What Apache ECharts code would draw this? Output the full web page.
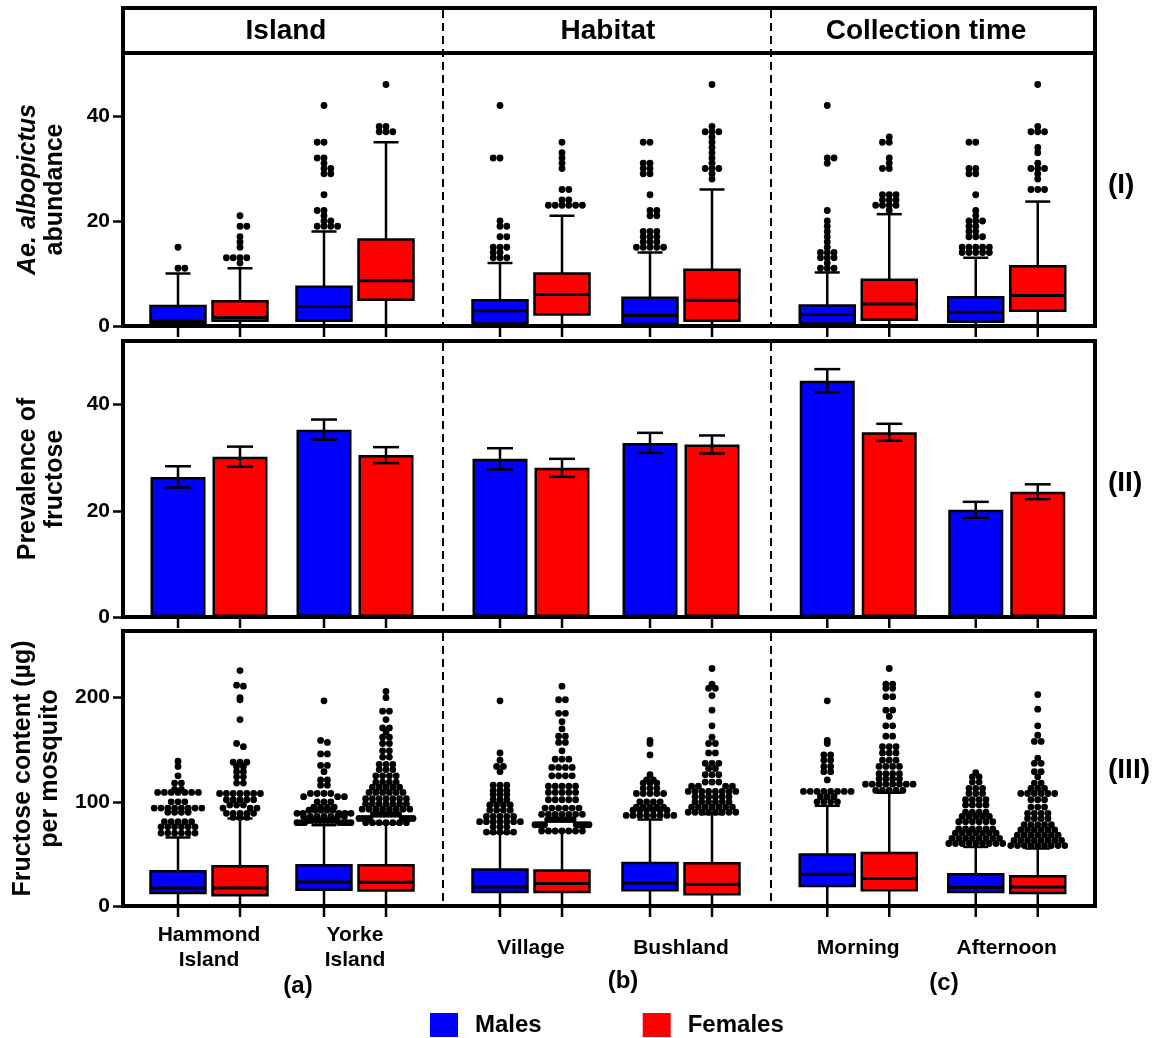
<!DOCTYPE html>
<html><head><meta charset="utf-8">
<script src="https://cdn.jsdelivr.net/npm/echarts@6/dist/echarts.min.js"></script>
<style>html,body{margin:0;padding:0;background:#fff}#chart{width:1170px;height:1038px}</style>
</head><body><div id="chart"></div>
<script>
// ---------------- DATA ----------------
const sectionTitles = ['Island', 'Habitat', 'Collection time'];
const sectionTags = ['(a)', '(b)', '(c)'];
const rowTags = ['(I)', '(II)', '(III)'];
const islandCats = ['Hammond\nIsland', 'Yorke\nIsland'];
const habitatCats = ['Village', 'Bushland'];
const timeCats = ['Morning', 'Afternoon'];
const seriesNames = ['Males', 'Females'];

const abundanceTicks = [0, 20, 40];
const prevalenceTicks = [0, 20, 40];
const fructoseTicks = [0, 100, 200];
const abundanceMax = 52, prevalenceMax = 52, fructoseMax = 264;

// order: Hammond, Yorke, Village, Bushland, Morning, Afternoon ; box = [min, q1, median, q3, max]
const abundanceMalesBox = [[0,0.5,0.9,3.8,10],[0,1,3.7,7.5,18],[0,0.5,2.9,4.9,12],[0,0.4,2,5.4,14],[0,0.5,2.2,3.9,10.2],[0,0.8,2.6,5.5,13]];
const abundanceFemalesBox = [[0,1,1.6,4.7,11],[0,5,8.6,16.5,35],[0,2.2,6,10,21],[0,1,4.9,10.7,26],[0,1.2,4.2,8.8,21.3],[0,2.9,5.8,11.4,23.7]];
const abundanceMalesOut = [
  [11,11,15],
  [19,19,19,19,20,20,21,22,22,25,29,29,30,30,31,32,32,35,35,42],
  [13,13,13,14,14,15,15,15,17,17,19,19,20,32,32,42],
  [15,15,15,15,15,16,16,16,17,17,17,18,18,18,21,21,22,22,25,29,29,30,30,31,31,35,35],
  [11,11,11,12,13,13,13,14,14,14,15,16,17,18,19,20,22,31,32,32,42],
  [14,14,14,14,14,15,15,15,15,15,17,17,17,18,18,19,19,20,20,20,21,22,25,29,29,30,30,35,35]
];
const abundanceFemalesOut = [
  [12,13,13,13,13,15,16,17,19,19,21],
  [37,37,37,38,38,46],
  [23,23,23,23,23,23,24,24,26,26,30,31,32,33,35],
  [28,29,30,30,30,31,32,33,34,35,36,37,37,37,38,46],
  [22,23,23,23,23,24,24,24,25,25,25,30,30,31,32,35,35,36],
  [26,26,26,28,29,30,30,30,31,33,34,37,37,37,38,46]
];

const prevalenceMales = [26.4, 35.3, 29.8, 32.8, 44.5, 20.2];
const prevalenceMalesErr = [2.0, 1.9, 2.0, 1.9, 2.2, 1.5];
const prevalenceFemales = [30.2, 30.5, 28.1, 32.5, 34.8, 23.6];
const prevalenceFemalesErr = [1.9, 1.5, 1.7, 1.7, 1.6, 1.4];

const fructoseMalesBox = [[0,12.5,17.3,33.4,65.8],[0,15.7,23.1,39.1,77.6],[0,13.5,18.3,35,70.2],[0,15.1,22.1,41.3,83],[0,19.2,30.5,49.4,96.2],[0,13.5,17.7,30.5,56.7]];
const fructoseFemalesBox = [[0,10.3,17.3,38.2,84],[0,14.8,22.8,39.1,79.2],[0,13.5,21.5,34,71.8],[0,11.3,20.9,41,88.2],[0,15.1,26.3,51,108.7],[0,12.5,18.3,28.6,55.2]];
// outliers as [value, count] read row by row
const fructoseMalesOut = [
  [[70,6],[76,6],[81,5],[90,4],[94,8],[100,3],[109,7],[112,2],[118,2],[125,1],[134,1],[139,1]],
  [[80,7],[82,8],[86,7],[89,5],[92,5],[95,4],[100,3],[105,3],[108,4],[116,2],[121,2],[129,1],[135,2],[146,2],[157,1],[159,1],[197,1]],
  [[71,5],[76,3],[81,7],[86,5],[92,4],[97,4],[102,3],[107,3],[111,3],[116,3],[129,1],[134,2],[140,1],[147,1],[197,1]],
  [[87,8],[92,6],[95,5],[100,4],[108,5],[113,3],[118,3],[121,2],[126,1],[145,1],[156,1],[159,1]],
  [[100,4],[105,3],[110,8],[121,1],[129,2],[134,2],[140,2],[145,2],[156,1],[159,1],[197,1]],
  [[60,9],[65,8],[70,7],[74,6],[81,6],[86,5],[90,4],[97,4],[102,4],[108,3],[113,3],[119,2],[124,2],[128,1]]
];
const fructoseFemalesOut = [
  [[85,3],[89,5],[94,3],[97,3],[102,5],[108,7],[118,2],[124,2],[129,2],[134,2],[138,3],[153,1],[156,1],[179,1],[198,1],[200,1],[211,1],[212,1],[226,1]],
  [[80,7],[84,8],[88,8],[93,8],[98,7],[103,7],[109,6],[114,5],[119,4],[125,4],[131,3],[136,3],[143,2],[149,2],[156,2],[162,2],[167,1],[171,2],[179,1],[187,2],[200,1],[206,1]],
  [[72,7],[78,9],[83,9],[88,7],[94,6],[102,5],[109,5],[115,5],[125,4],[133,4],[141,3],[149,1],[157,2],[163,2],[170,1],[177,1],[185,2],[198,2],[211,1]],
  [[90,8],[95,7],[100,6],[105,6],[110,8],[115,4],[119,3],[126,3],[132,2],[137,3],[147,2],[156,2],[162,1],[173,1],[188,1],[202,1],[209,2],[213,1],[228,1]],
  [[111,5],[117,8],[122,4],[127,4],[134,4],[140,3],[147,3],[153,3],[163,2],[173,2],[182,1],[188,2],[201,2],[209,2],[213,2],[228,1]],
  [[58,9],[63,8],[68,7],[73,6],[78,5],[84,4],[89,4],[95,3],[102,3],[108,6],[113,3],[118,2],[124,1],[129,2],[137,2],[142,1],[158,2],[164,1],[173,1],[189,1],[203,1]]
];

// ---------------- LAYOUT / STYLE ----------------
const FONT = "'Liberation Sans', Arial, Helvetica, sans-serif";
const colors = ['#0000ff', '#ff0000'];
const boxOffset = [-31, 31];
const frameLeft = 123, frameRight = 1095;
const rows = [{top: 53, height: 273}, {top: 341, height: 276}, {top: 631, height: 275}];
const sections = [{left: 136, width: 292}, {left: 456, width: 300}, {left: 784, width: 297}];
const sectionCats = [islandCats, habitatCats, timeCats];

function expand(pairs) {
  const out = [];
  pairs.forEach(([v, n]) => { for (let i = 0; i < n; i++) out.push(v); });
  return out;
}

// row-style spread: only points within rowTol px share a row
function rowSwarm(ys, spacing, rowTol) {
  const placed = [];
  return ys.map((y, i) => {
    const near = placed.filter(p => Math.abs(p.y - y) < rowTol);
    const cands = [0];
    near.forEach(p => { cands.push(p.x + spacing, p.x - spacing); });
    const pref = (i % 2) ? 1 : -1;
    cands.sort((a, b) => (Math.abs(a) - Math.abs(b)) || (pref * (b - a)));
    let best = 0;
    for (const cx of cands) {
      if (near.every(p => Math.abs(p.x - cx) >= spacing - 0.01)) { best = cx; break; }
    }
    placed.push({x: best, y});
    return best;
  });
}

// binned spread (Prism-like): points in the same pixel bin are spread horizontally, compressed to maxHalf
function binSwarm(ys, spacing, binH, maxHalf) {
  const xs = new Array(ys.length).fill(0);
  const bins = {};
  ys.forEach((y, i) => { const b = Math.floor(y / binH); (bins[b] = bins[b] || []).push(i); });
  Object.keys(bins).forEach(b => {
    const idx = bins[b];
    const n = idx.length;
    if (n < 2) return;
    const step = Math.min(spacing, 2 * maxHalf / (n - 1));
    const order = idx.slice().sort((a, c) => ys[a] - ys[c]);
    const slots = [];
    for (let k = 0; k < n; k++) slots.push((k - (n - 1) / 2) * step);
    slots.sort((a, c) => Math.abs(a) - Math.abs(c) || a - c);
    order.forEach((id, k) => { xs[id] = slots[k]; });
  });
  return xs;
}

const lineStyle = {stroke: '#000', lineWidth: 2.5};

function boxRender(sex, outliers, dot) {
  return function (params, api) {
    const c = api.value(0);
    const base = api.coord([c, 0]);
    const cx = base[0] + boxOffset[sex];
    const y = k => api.coord([c, api.value(k)])[1];
    const yMin = y(1), yQ1 = y(2), yMed = y(3), yQ3 = y(4), yMax = y(5);
    const hw = 27.5, cap = 12.5;
    const ch = [];
    ch.push({type: 'line', shape: {x1: cx, y1: base[1], x2: cx, y2: base[1] + 11}, style: lineStyle});
    ch.push({type: 'line', shape: {x1: cx, y1: yMin, x2: cx, y2: yQ1}, style: lineStyle});
    ch.push({type: 'line', shape: {x1: cx, y1: yQ3, x2: cx, y2: yMax}, style: lineStyle});
    ch.push({type: 'line', shape: {x1: cx - cap, y1: yMax, x2: cx + cap, y2: yMax}, style: lineStyle});
    ch.push({type: 'rect', shape: {x: cx - hw, y: yQ3, width: 2 * hw, height: yQ1 - yQ3},
      style: {fill: colors[sex], stroke: '#000', lineWidth: 2.5}});
    ch.push({type: 'line', shape: {x1: cx - hw, y1: yMed, x2: cx + hw, y2: yMed}, style: {stroke: '#000', lineWidth: 3}});
    const vals = outliers[params.dataIndex].slice().sort((a, b) => a - b);
    const ys = vals.map(v => api.coord([c, v])[1]);
    const xs = dot.mode === 'row' ? rowSwarm(ys, dot.spacing, dot.rowTol) : binSwarm(ys, dot.spacing, dot.binH, dot.maxHalf);
    ys.forEach((yy, i) => ch.push({type: 'circle', shape: {cx: cx + xs[i], cy: yy, r: dot.r}, style: {fill: '#000'}}));
    return {type: 'group', children: ch};
  };
}

function errRender(sex) {
  return function (params, api) {
    const c = api.value(0), m = api.value(1), e = api.value(2);
    const base = api.coord([c, 0]);
    const cx = base[0] + boxOffset[sex];
    const yt = api.coord([c, m + e])[1], yb = api.coord([c, m - e])[1];
    const cap = 13;
    return {type: 'group', children: [
      {type: 'line', shape: {x1: cx, y1: base[1], x2: cx, y2: base[1] + 11}, style: lineStyle},
      {type: 'line', shape: {x1: cx, y1: yt, x2: cx, y2: yb}, style: lineStyle},
      {type: 'line', shape: {x1: cx - cap, y1: yt, x2: cx + cap, y2: yt}, style: lineStyle},
      {type: 'line', shape: {x1: cx - cap, y1: yb, x2: cx + cap, y2: yb}, style: lineStyle}
    ]};
  };
}

const rowAxes = [
  {max: abundanceMax, ticks: abundanceTicks, name: '{it|Ae. albopictus}\nabundance'},
  {max: prevalenceMax, ticks: prevalenceTicks, name: 'Prevalence of\nfructose'},
  {max: fructoseMax, ticks: fructoseTicks, name: 'Fructose content (µg)\nper mosquito'}
];

const grid = [], xAxis = [], yAxis = [], series = [];
rows.forEach((r, ri) => {
  const g0 = grid.length;
  grid.push({left: frameLeft, width: frameRight - frameLeft, top: r.top, height: r.height,
    show: true, borderWidth: 4, borderColor: '#000', backgroundColor: 'transparent'});
  xAxis.push({gridIndex: g0, type: 'value', min: 0, max: 1, show: false});
  yAxis.push({gridIndex: g0, type: 'value', min: 0, max: rowAxes[ri].max,
    axisLine: {show: false}, splitLine: {show: false},
    axisTick: {show: true, length: 10, customValues: rowAxes[ri].ticks, lineStyle: {color: '#000', width: 2.5}},
    axisLabel: {margin: 13, fontSize: 21, fontWeight: 'bold', color: '#000', fontFamily: FONT, customValues: rowAxes[ri].ticks},
    name: rowAxes[ri].name, nameLocation: 'middle', nameGap: 54,
    nameTextStyle: {fontSize: 25, fontWeight: 'bold', color: '#000', fontFamily: FONT, lineHeight: 27,
      rich: {it: {fontSize: 25, fontWeight: 'bold', fontStyle: 'italic', color: '#000', fontFamily: FONT, lineHeight: 27}}}
  });
  sections.forEach((s, si) => {
    const g = grid.length;
    grid.push({left: s.left, width: s.width, top: r.top, height: r.height, show: false});
    xAxis.push({gridIndex: g, type: 'category', data: sectionCats[si], boundaryGap: true,
      axisLine: {show: false}, axisTick: {show: false},
      axisLabel: {show: ri === 2, interval: 0, margin: 42, verticalAlign: 'middle', fontSize: 21, fontWeight: 'bold',
        color: '#000', fontFamily: FONT, lineHeight: 25}});
    yAxis.push({gridIndex: g, type: 'value', min: 0, max: rowAxes[ri].max, show: false});
    [0, 1].forEach(sex => {
      const k0 = si * 2;
      if (ri === 0 || ri === 2) {
        const boxes = ri === 0 ? (sex ? abundanceFemalesBox : abundanceMalesBox) : (sex ? fructoseFemalesBox : fructoseMalesBox);
        let outs;
        if (ri === 0) outs = (sex ? abundanceFemalesOut : abundanceMalesOut).slice(k0, k0 + 2);
        else outs = (sex ? fructoseFemalesOut : fructoseMalesOut).slice(k0, k0 + 2).map(expand);
        const dot = ri === 0 ? {mode: 'row', r: 3.4, spacing: 6.8, rowTol: 2}
                             : {mode: 'bin', r: 3.4, spacing: 6.8, binH: 5.5, maxHalf: 27};
        series.push({type: 'custom', name: seriesNames[sex], xAxisIndex: g, yAxisIndex: g, clip: false, z: 3,
          encode: {x: 0, y: [1, 2, 3, 4, 5]},
          data: [0, 1].map(c => [c].concat(boxes[k0 + c])),
          renderItem: boxRender(sex, outs, dot)});
      } else {
        const vals = sex ? prevalenceFemales : prevalenceMales;
        const errs = sex ? prevalenceFemalesErr : prevalenceMalesErr;
        series.push({type: 'bar', name: seriesNames[sex], xAxisIndex: g, yAxisIndex: g, barWidth: 55, barGap: '12.7%',
          itemStyle: {color: colors[sex], borderColor: '#000', borderWidth: 2.5},
          data: vals.slice(k0, k0 + 2)});
        series.push({type: 'custom', name: seriesNames[sex], xAxisIndex: g, yAxisIndex: g, clip: false, z: 4,
          encode: {x: 0, y: [1]},
          data: [0, 1].map(c => [c, vals[k0 + c], errs[k0 + c]]),
          renderItem: errRender(sex)});
      }
    });
  });
});

const graphics = [];
graphics.push({type: 'rect', shape: {x: frameLeft, y: 8, width: frameRight - frameLeft, height: 45},
  style: {fill: 'none', stroke: '#000', lineWidth: 4}, z: 10});
const headerX = [286, 608, 926];
sectionTitles.forEach((t, i) => graphics.push({type: 'text', x: headerX[i], y: 31,
  style: {text: t, font: 'bold 28px ' + FONT, fill: '#000', align: 'center', verticalAlign: 'middle'}}));
const dashX = [443, 771];
const dashSpans = [[10, 324], [343, 615], [633, 904]];
dashX.forEach(x => dashSpans.forEach(([a, b]) => graphics.push({type: 'line', shape: {x1: x, y1: a, x2: x, y2: b},
  style: {stroke: '#000', lineWidth: 2, lineDash: [8, 5]}})));
const tagY = [185, 483, 770];
rowTags.forEach((t, i) => graphics.push({type: 'text', x: 1108, y: tagY[i],
  style: {text: t, font: 'bold 28px ' + FONT, fill: '#000', align: 'left', verticalAlign: 'middle'}}));
const secTagX = [298, 623, 944], secTagY = [986, 981, 983];
sectionTags.forEach((t, i) => graphics.push({type: 'text', x: secTagX[i], y: secTagY[i],
  style: {text: t, font: 'bold 24px ' + FONT, fill: '#000', align: 'center', verticalAlign: 'middle'}}));

const chart = echarts.init(document.getElementById('chart'), null, {renderer: 'canvas'});
chart.setOption({
  animation: false,
  backgroundColor: '#fff',
  textStyle: {fontFamily: FONT},
  grid, xAxis, yAxis, series,
  graphic: graphics,
  legend: {left: 430, top: 1013, itemWidth: 28, itemHeight: 24, itemGap: 101, icon: 'rect', padding: 0, selectedMode: false,
    data: [{name: 'Males', itemStyle: {color: colors[0], borderWidth: 0}}, {name: 'Females', itemStyle: {color: colors[1], borderWidth: 0}}],
    textStyle: {fontSize: 24, fontWeight: 'bold', color: '#000', fontFamily: FONT, padding: [0, 0, 0, 12]}}
});
</script></body></html>
